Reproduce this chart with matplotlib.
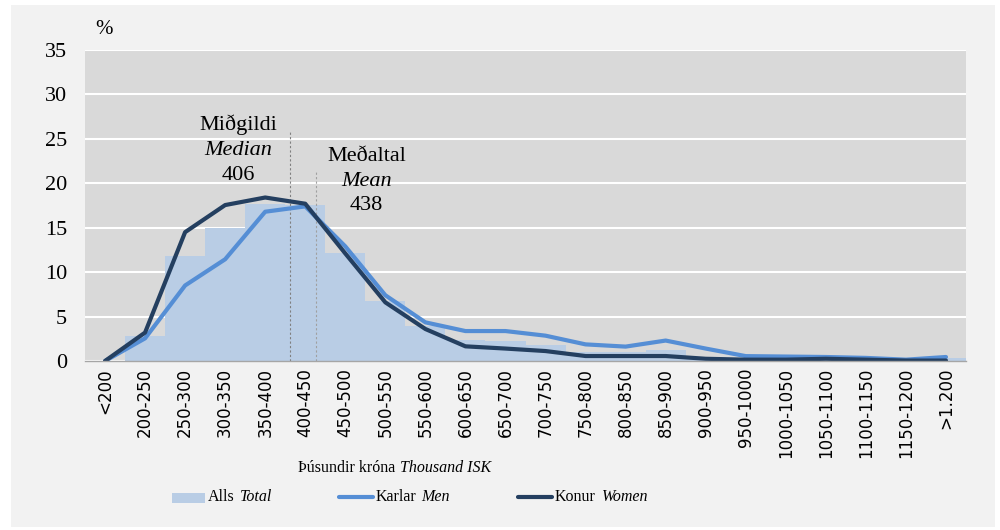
import matplotlib
matplotlib.use("Agg")
import matplotlib.pyplot as plt
from matplotlib.patches import Rectangle
from matplotlib.lines import Line2D
import numpy as np

categories = ["<200", "200-250", "250-300", "300-350", "350-400", "400-450",
              "450-500", "500-550", "550-600", "600-650", "650-700", "700-750",
              "750-800", "800-850", "850-900", "900-950", "950-1000", "1000-1050",
              "1050-1100", "1100-1150", "1150-1200", ">1.200"]
total = [0.0, 2.8, 11.85, 15.0, 17.65, 17.55, 12.2, 6.8, 3.9, 2.4, 2.2, 1.8,
         1.05, 1.0, 1.25, 0.5, 0.3, 0.3, 0.3, 0.2, 0.1, 0.3]
men = [0.0, 2.55, 8.5, 11.45, 16.8, 17.4, 12.9, 7.4, 4.35, 3.37, 3.37, 2.85,
       1.87, 1.62, 2.3, 1.4, 0.55, 0.5, 0.45, 0.35, 0.15, 0.45]
women = [0.0, 3.2, 14.5, 17.55, 18.4, 17.7, 12.1, 6.6, 3.6, 1.65, 1.4, 1.12,
         0.56, 0.56, 0.56, 0.25, 0.15, 0.15, 0.25, 0.15, 0.05, 0.05]
median_value = 406
mean_value = 438
yticks = [0, 5, 10, 15, 20, 25, 30, 35]

SERIF = ["Liberation Serif", "DejaVu Serif"]
SANS = ["DejaVu Sans"]
C_BAR = "#B9CDE5"
C_MEN = "#558ED5"
C_WOMEN = "#243F60"

fig = plt.figure(figsize=(10, 5.3), dpi=100)
fig.patch.set_facecolor("white")
fig.patches.append(Rectangle((11/1000, 3/530), 984/1000, 522/530,
                             transform=fig.transFigure, facecolor="#F2F2F2",
                             edgecolor="none", zorder=-10))

ax = fig.add_axes([0.085, 1 - 361/530, 0.881, 311/530])
ax.set_facecolor("#D9D9D9")
x = np.arange(len(categories))

ax.bar(x, total, width=1.0, color=C_BAR, zorder=2, linewidth=0)
ax.plot(x, men, color=C_MEN, lw=3.0, zorder=4, solid_capstyle="round")
ax.plot(x, women, color=C_WOMEN, lw=3.0, zorder=5, solid_capstyle="round")

ax.set_xlim(-0.5, len(categories) - 0.5)
ax.set_ylim(0, 35)
ax.set_yticks(yticks)
ax.set_yticklabels([str(v) for v in yticks], family=SERIF, fontsize=16)
ax.set_xticks(x)
ax.set_xticklabels(categories, rotation=90, family=SANS, fontsize=12,
                   va="top", ha="center")
ax.tick_params(axis="both", length=0)
ax.tick_params(axis="y", pad=13)
ax.tick_params(axis="x", pad=5)
ax.grid(axis="y", color="white", lw=1.5, zorder=1)
ax.set_axisbelow(True)
for s in ["top", "right", "left"]:
    ax.spines[s].set_visible(False)
ax.spines["bottom"].set_color("#A6A6A6")
ax.spines["bottom"].set_linewidth(1.0)
ax.spines["bottom"].set_zorder(6)


def val_to_x(v):
    return (v - 225) / 50 + 1


mx = val_to_x(median_value)
ex = val_to_x(mean_value)
ax.plot([mx, mx], [0, 25.8], color="#808080", lw=0.8, ls=(0, (2, 2)), zorder=3)
ax.plot([ex, ex], [0, 21.5], color="#A0A0A0", lw=0.8, ls=(0, (2, 2)), zorder=3)

ax.text(3.33, 26.56, "Miðgildi", family=SERIF, fontsize=16, ha="center", va="center", zorder=7)
ax.text(3.33, 23.72, "Median", family=SERIF, fontsize=16, style="italic", ha="center", va="center", zorder=7)
ax.text(3.33, 20.9, str(median_value), family=SERIF, fontsize=16, ha="center", va="center", zorder=7)
ax.text(6.53, 23.0, "Meðaltal", family=SERIF, fontsize=16, ha="center", va="center", zorder=7)
ax.text(6.53, 20.2, "Mean", family=SERIF, fontsize=16, style="italic", ha="center", va="center", zorder=7)
ax.text(6.53, 17.5, str(mean_value), family=SERIF, fontsize=16, ha="center", va="center", zorder=7)

fig.text(95/1000, 1 - 30/530, "%", family=SERIF, fontsize=15, ha="left", va="center")

# axis title
yl = 1 - 468/530
fig.text(298/1000, yl, "Þúsundir króna", family=SERIF, fontsize=11.5, ha="left", va="center")
fig.text(400/1000, yl, "Thousand ISK", family=SERIF, fontsize=11.5, style="italic", ha="left", va="center")

# legend
ly = 1 - 497/530
fig.patches.append(Rectangle((172/1000, 1 - 503/530), 33/1000, 10/530,
                             transform=fig.transFigure, facecolor=C_BAR,
                             edgecolor="none", zorder=3))
fig.text(208/1000, ly, "Alls", family=SERIF, fontsize=11.5, ha="left", va="center")
fig.text(240/1000, ly, "Total", family=SERIF, fontsize=11.5, style="italic", ha="left", va="center")
fig.add_artist(Line2D([339/1000, 373/1000], [ly, ly], transform=fig.transFigure,
                      color=C_MEN, lw=3.0, solid_capstyle="round"))
fig.text(376/1000, ly, "Karlar", family=SERIF, fontsize=11.5, ha="left", va="center")
fig.text(421/1000, ly, "Men", family=SERIF, fontsize=11.5, style="italic", ha="left", va="center")
fig.add_artist(Line2D([518/1000, 552/1000], [ly, ly], transform=fig.transFigure,
                      color=C_WOMEN, lw=3.0, solid_capstyle="round"))
fig.text(555/1000, ly, "Konur", family=SERIF, fontsize=11.5, ha="left", va="center")
fig.text(602/1000, ly, "Women", family=SERIF, fontsize=11.5, style="italic", ha="left", va="center")

fig.savefig("out.png", dpi=100, facecolor=fig.get_facecolor())
